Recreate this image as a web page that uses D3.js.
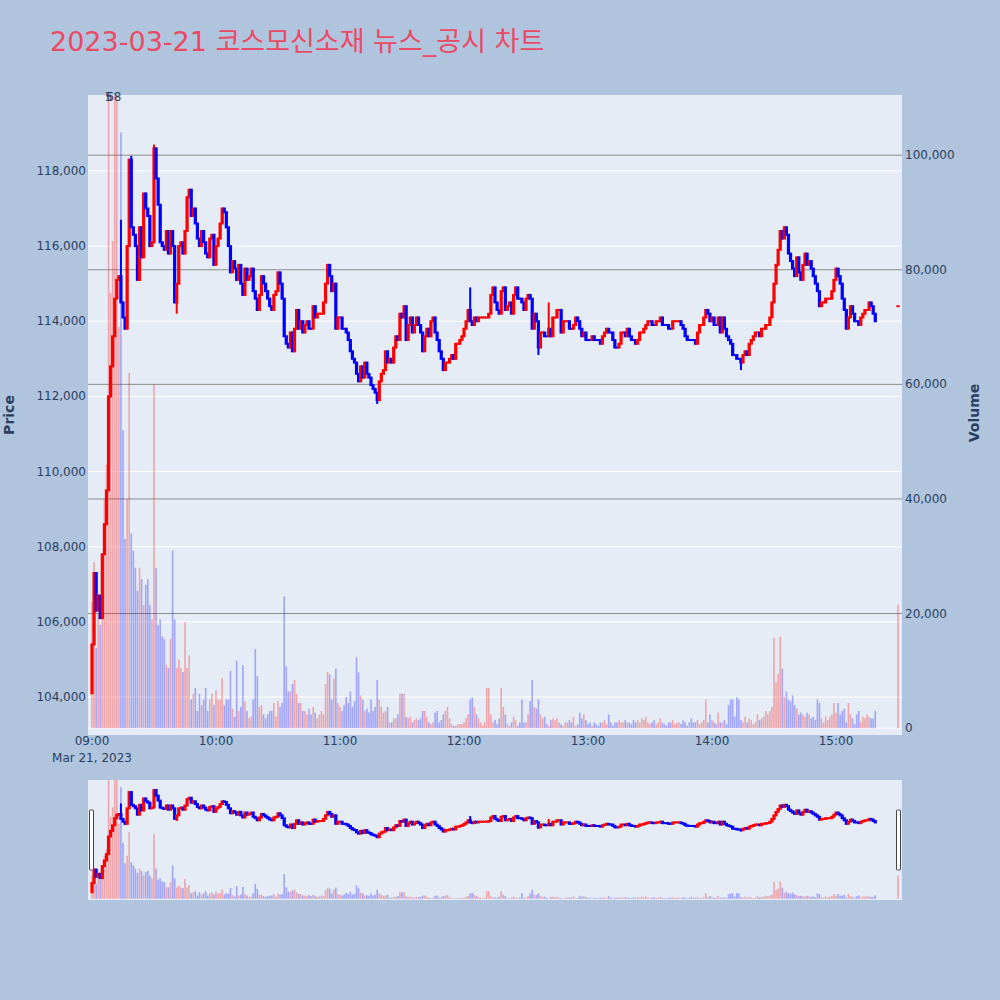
<!DOCTYPE html>
<html>
<head>
<meta charset="utf-8">
<script src="https://cdn.jsdelivr.net/npm/d3@7"></script>
<style>
  body { margin: 0; background: #b0c4de; }
  text { font-family: "DejaVu Sans", "Noto Sans CJK KR", sans-serif; }
</style>
</head>
<body>
<script>
// 1-minute closes, in units of 100 won (09:00 .. 15:19)
const priceH09 = [
  1054,1073,1063,1067,1061,1078,1086,1095,1120,1128,
  1136,1146,1151,1152,1145,1141,1138,1160,1183,1165,
  1163,1160,1151,1165,1157,1174,1170,1168,1160,1161,
  1186,1178,1171,1161,1160,1159,1164,1158,1164,1160,
  1145,1150,1160,1161,1158,1164,1173,1175,1168,1170,
  1166,1162,1160,1164,1161,1158,1157,1162,1163,1155];
const priceH10 = [
  1160,1162,1166,1170,1169,1165,1160,1153,1156,1154,
  1151,1155,1150,1147,1154,1151,1152,1154,1148,1146,
  1143,1147,1152,1150,1148,1146,1144,1143,1147,1148,
  1153,1150,1146,1136,1134,1133,1137,1132,1138,1143,
  1138,1140,1137,1139,1140,1138,1138,1144,1141,1142,
  1142,1142,1145,1150,1155,1152,1148,1150,1138,1141];
const priceH11 = [
  1141,1138,1138,1137,1135,1132,1130,1129,1126,1124,
  1128,1125,1129,1126,1125,1123,1122,1121,1119,1124,
  1126,1127,1132,1129,1130,1129,1133,1136,1135,1142,
  1141,1144,1135,1139,1141,1137,1139,1141,1139,1137,
  1132,1136,1138,1136,1140,1141,1137,1135,1132,1130,
  1127,1129,1129,1130,1131,1130,1134,1134,1135,1136];
const priceH12 = [
  1138,1140,1143,1140,1139,1141,1140,1141,1141,1141,
  1141,1141,1142,1147,1149,1145,1143,1142,1148,1149,
  1143,1144,1145,1142,1147,1149,1146,1146,1145,1143,
  1146,1147,1146,1138,1142,1140,1133,1137,1137,1136,
  1136,1138,1136,1141,1141,1143,1143,1137,1140,1140,
  1140,1138,1138,1139,1141,1140,1138,1136,1137,1135];
const priceH13 = [
  1135,1135,1136,1135,1135,1135,1134,1136,1137,1138,
  1137,1137,1135,1133,1133,1134,1137,1137,1136,1138,
  1136,1135,1135,1134,1135,1137,1137,1138,1139,1140,
  1140,1139,1139,1140,1140,1141,1139,1139,1139,1138,
  1138,1140,1140,1140,1140,1139,1138,1136,1135,1135,
  1135,1135,1134,1137,1139,1139,1141,1143,1142,1140];
const priceH14 = [
  1141,1139,1139,1141,1137,1141,1138,1136,1135,1134,
  1131,1131,1130,1130,1129,1131,1132,1131,1134,1135,
  1136,1137,1137,1136,1138,1138,1139,1139,1141,1145,
  1150,1155,1159,1164,1162,1165,1163,1158,1156,1154,
  1152,1157,1153,1151,1155,1158,1155,1156,1154,1152,
  1150,1148,1144,1145,1145,1146,1146,1146,1148,1151];
const priceH15 = [
  1154,1152,1150,1146,1143,1138,1141,1144,1142,1140,
  1140,1139,1141,1142,1143,1143,1145,1144,1142,1140];

// 1-minute volume, in thousands of shares
const volH09 = [
  22,29,14,20,18,27,40,46,118,76,
  85,125,115,70,104,52,33,40,62,34,
  31,28,24,28,26,21.5,25,26,21.5,19,
  60,28,18,19,16,15.6,11,10.5,15.6,31,
  19,10.5,12,10.5,9.8,18.5,10.5,12.7,5,6,
  7,3,6,4,5,7,3,5,6,4];
const volH10 = [
  6.6,5,5,8.7,4,5,5,10,3.4,2,
  11.8,3,3.7,11,4.7,3,1.7,2,5,13.8,
  9.1,3.7,4,2.4,1.7,2.4,3,3,4.4,2,
  4.7,3.7,4.4,23,10.8,6.4,6.4,7.7,8.4,6,
  4.4,4.4,3,3,2.4,3.4,2.4,3.7,2.7,1.7,
  2.4,3,2.4,7.7,9.8,9.4,5,8.7,10.4,4.4];
const volH11 = [
  3.7,3,4,5.4,4.4,6.4,3.7,4.7,12.4,9.7,
  5.7,5,3,3.4,2.7,5,3,3.7,8.4,5,
  3.7,2.7,3,3.7,1,1,1.7,1.7,2.4,6,
  6,6,2,1.7,2,1,1.4,1.7,1.4,1.7,
  3,3,2,1,0.7,1,2.7,3,1,1.4,
  2.4,3,3.7,1.7,0.7,0.4,0.4,0.7,0.7,0.7];
const volH12 = [
  1,1.7,2.4,5,5.4,3.7,2.4,1.7,1,0.4,
  1,7,7,2.4,1,1.4,0.7,1.7,7,3.7,
  2.4,0.7,0.4,1,2,1.4,0.4,1,5,1,
  1,2.4,4.7,8.4,3.7,3.4,5,2.4,1.7,2,
  0.7,0.4,1.4,1.7,1.4,1.7,1,0.7,0.4,1,
  1,1.4,1,2,0.4,0.7,2.7,1.7,2.4,1.4];
const volH13 = [
  0.7,1,0.4,1,0.7,0.4,1,1,1.4,0.7,
  2.4,1,0.4,1,1,1.4,1,1,1.4,1,
  1,0.7,1.4,1,1.4,1,1.7,1.4,2,1,
  0.7,1,1.4,0.7,1,1.7,1,0.7,0.4,1,
  1,1.4,0.7,1,1,0.7,1.4,1,0.4,1,
  1.7,1,1,1.4,0.7,1,1.4,5,1,2.4];
const volH14 = [
  1.4,1,0.7,2.7,1,1,1.4,0.7,4,5,
  5,2,5.4,5,1.4,1,2,1,1.7,1.4,
  0.7,1,2.4,1.4,1.7,2,3,2.4,3,3.7,
  15.8,8,9.4,16,10.4,5.4,6.4,5,4.7,5.7,
  4,3.4,2.4,2.7,2.4,2,2.7,2.4,1.7,2,
  1.4,5,4.4,1.7,1,2,1.4,2,2.4,4.4];
const volH15 = [
  2.7,4.4,2.4,3,3.4,1,4.4,2.4,1.7,0.7,
  2.4,3,1,2,1.7,2.4,2,1.7,1.7,3];

const firstOpen = 1041;   // 09:00 open
// wicks that stick out of the open/close body
const upperWicks = [["09:14",1167],["09:19",1184],["09:30",1187],["12:03",1149],["12:41",1145]];
const lowerWicks = [["09:41",1142],["11:18",1118],["12:36",1131],["14:14",1127]];
// closing single-price auction
const closingAuction = {time: "15:30", price: 1144, volume: 21.6};

const priceTicks = [104000,106000,108000,110000,112000,114000,116000,118000];
const volumeTicks = [0,20000,40000,60000,80000,100000];
const timeTicks = ["09:00","10:00","11:00","12:00","13:00","14:00","15:00"];
// markers printed over the clipped opening bars ("5" and "6" sit on top of each other)
const topLabelTime = "09:08";
const topLabels = ["5","6","8"];

const chartTitle = "2023-03-21 코스모신소재 뉴스_공시 차트";

// ---------------------------------------------------------------
const width = 1000, height = 1000;
const RED = "#ff0000", BLUE = "#0000ff";
const INK = "#2a3f5f";

const parse = d3.timeParse("%Y-%m-%d %H:%M");
const fmt = d3.timeFormat("%H:%M");
const day = "2023-03-21 ";
const t0 = parse(day + "09:00");

const closes = [].concat(priceH09, priceH10, priceH11, priceH12, priceH13, priceH14, priceH15);
const vols = [].concat(volH09, volH10, volH11, volH12, volH13, volH14, volH15);

const bars = closes.map((c, i) => {
  const o = i === 0 ? firstOpen : closes[i - 1];
  return {t: d3.timeMinute.offset(t0, i), o: o * 100, c: c * 100,
          h: Math.max(o, c) * 100, l: Math.min(o, c) * 100, v: vols[i] * 1000};
});
bars.push({t: parse(day + closingAuction.time), o: closingAuction.price * 100,
  c: closingAuction.price * 100, h: closingAuction.price * 100, l: closingAuction.price * 100,
  v: closingAuction.volume * 1000});

const byTime = new Map(bars.map(b => [fmt(b.t), b]));
upperWicks.forEach(([t, p]) => { const b = byTime.get(t); if (b) b.h = Math.max(b.h, p * 100); });
lowerWicks.forEach(([t, p]) => { const b = byTime.get(t); if (b) b.l = Math.min(b.l, p * 100); });

// direction: flat candles follow the previous close, then previous direction
let lastUp = true;
bars.forEach((b, i) => {
  const prev = i ? bars[i - 1].c : b.o;
  if (b.c > b.o) b.up = true;
  else if (b.c < b.o) b.up = false;
  else if (b.c > prev) b.up = true;
  else if (b.c < prev) b.up = false;
  else b.up = lastUp;
  lastUp = b.up;
});

const plot = {left: 88, right: 902, top: 95, bottom: 735};
const rs = {top: 780, bottom: 900};

const x = d3.scaleTime()
  .domain([d3.timeSecond.offset(t0, -116), d3.timeSecond.offset(t0, 23516)])
  .range([plot.left, plot.right]);
const yPrice = d3.scaleLinear().domain([102990, 120020]).range([plot.bottom, plot.top]);
const yVol = d3.scaleLinear().domain([-1200, 110500]).range([plot.bottom, plot.top]);
const yPriceRS = d3.scaleLinear().domain(yPrice.domain()).range([rs.bottom, rs.top]);
const yVolRS = d3.scaleLinear().domain(yVol.domain()).range([rs.bottom, rs.top]);

const svg = d3.select("body").append("svg")
  .attr("width", width).attr("height", height);

svg.append("rect").attr("width", width).attr("height", height).attr("fill", "#b0c4de");

const defs = svg.append("defs");
defs.append("clipPath").attr("id", "clipMain").append("rect")
  .attr("x", plot.left).attr("y", plot.top)
  .attr("width", plot.right - plot.left).attr("height", plot.bottom - plot.top);
defs.append("clipPath").attr("id", "clipRS").append("rect")
  .attr("x", plot.left).attr("y", rs.top)
  .attr("width", plot.right - plot.left).attr("height", rs.bottom - rs.top);

// title
svg.append("text")
  .attr("x", 50).attr("y", 51)
  .attr("font-size", 27)
  .attr("fill", "#ea4a63")
  .text(chartTitle);

// plot background
svg.append("rect")
  .attr("x", plot.left).attr("y", plot.top)
  .attr("width", plot.right - plot.left).attr("height", plot.bottom - plot.top)
  .attr("fill", "#e5ecf6");

// price grid (white)
svg.append("g").selectAll("line").data(priceTicks).join("line")
  .attr("x1", plot.left).attr("x2", plot.right)
  .attr("y1", d => yPrice(d)).attr("y2", d => yPrice(d))
  .attr("stroke", "#fff").attr("stroke-width", 1);

// volume grid (gray), zero line white
svg.append("g").selectAll("line").data(volumeTicks).join("line")
  .attr("x1", plot.left).attr("x2", plot.right)
  .attr("y1", d => yVol(d)).attr("y2", d => yVol(d))
  .attr("stroke", d => d === 0 ? "#fff" : "#8c8c8c").attr("stroke-width", 1);

function drawCandles(g, yP) {
  const c = g.append("g").selectAll("g").data(bars).join("g")
    .attr("stroke", d => d.up ? RED : BLUE)
    .attr("fill", d => d.up ? RED : BLUE)
    .attr("stroke-width", 2);
  c.append("line")
    .attr("x1", d => x(d.t)).attr("x2", d => x(d.t))
    .attr("y1", d => yP(d.h)).attr("y2", d => yP(d.l));
  c.append("rect")
    .attr("x", d => x(d.t) - 0.6).attr("width", 1.2)
    .attr("y", d => yP(Math.max(d.o, d.c)))
    .attr("height", d => Math.max(0.01, Math.abs(yP(d.o) - yP(d.c))));
}

function drawVolume(g, yV) {
  g.append("g").selectAll("rect").data(bars).join("rect")
    .attr("x", d => x(d.t) - 0.8).attr("width", 1.6)
    .attr("y", d => yV(d.v))
    .attr("height", d => yV(0) - yV(d.v))
    .attr("fill", d => d.up ? RED : BLUE)
    .attr("fill-opacity", 0.3);
}

const main = svg.append("g").attr("clip-path", "url(#clipMain)");
drawCandles(main, yPrice);
drawVolume(main, yVol);

// labels above the clipped opening bars, one text with stacked glyphs
svg.append("text")
  .attr("x", x(parse(day + topLabelTime)) - 3.5)
  .attr("y", 101)
  .attr("font-size", 12)
  .attr("fill", INK)
  .selectAll("tspan").data(topLabels).join("tspan")
  .attr("dx", (d, i) => i === 1 ? -6.5 : 0)
  .text(d => d);

// left axis (price)
svg.append("g").selectAll("text").data(priceTicks).join("text")
  .attr("x", plot.left - 2).attr("y", d => yPrice(d) + 4)
  .attr("text-anchor", "end")
  .attr("font-size", 12).attr("fill", INK)
  .text(d3.format(","));

// right axis (volume)
svg.append("g").selectAll("text").data(volumeTicks).join("text")
  .attr("x", plot.right + 3).attr("y", d => yVol(d) + 4)
  .attr("font-size", 12).attr("fill", INK)
  .text(d3.format(","));

// time axis
svg.append("g").selectAll("text").data(timeTicks).join("text")
  .attr("x", d => x(parse(day + d)))
  .attr("y", 745)
  .attr("text-anchor", "middle")
  .attr("font-size", 12).attr("fill", INK)
  .text(d => d);
svg.append("text")
  .attr("x", x(t0)).attr("y", 762)
  .attr("text-anchor", "middle")
  .attr("font-size", 12).attr("fill", INK)
  .text("Mar 21, 2023");

// axis titles
svg.append("text")
  .attr("transform", "translate(14,415) rotate(-90)")
  .attr("text-anchor", "middle")
  .attr("font-size", 14).attr("font-weight", "bold").attr("fill", INK)
  .text("Price");
svg.append("text")
  .attr("transform", "translate(979,413) rotate(-90)")
  .attr("text-anchor", "middle")
  .attr("font-size", 14).attr("font-weight", "bold").attr("fill", INK)
  .text("Volume");

// range slider
svg.append("rect")
  .attr("x", plot.left).attr("y", rs.top)
  .attr("width", plot.right - plot.left).attr("height", rs.bottom - rs.top)
  .attr("fill", "#e5ecf6");
const rsG = svg.append("g").attr("clip-path", "url(#clipRS)");
drawCandles(rsG, yPriceRS);
drawVolume(rsG, yVolRS);

const grab = (rs.bottom - rs.top) / 2;
[plot.left + 1.5, plot.right - 5.5].forEach(hx => {
  svg.append("rect")
    .attr("x", hx).attr("y", rs.top + grab / 2)
    .attr("width", 4).attr("height", grab)
    .attr("rx", 1)
    .attr("fill", "#fff").attr("stroke", "#444").attr("stroke-width", 1);
});
</script>
</body>
</html>
